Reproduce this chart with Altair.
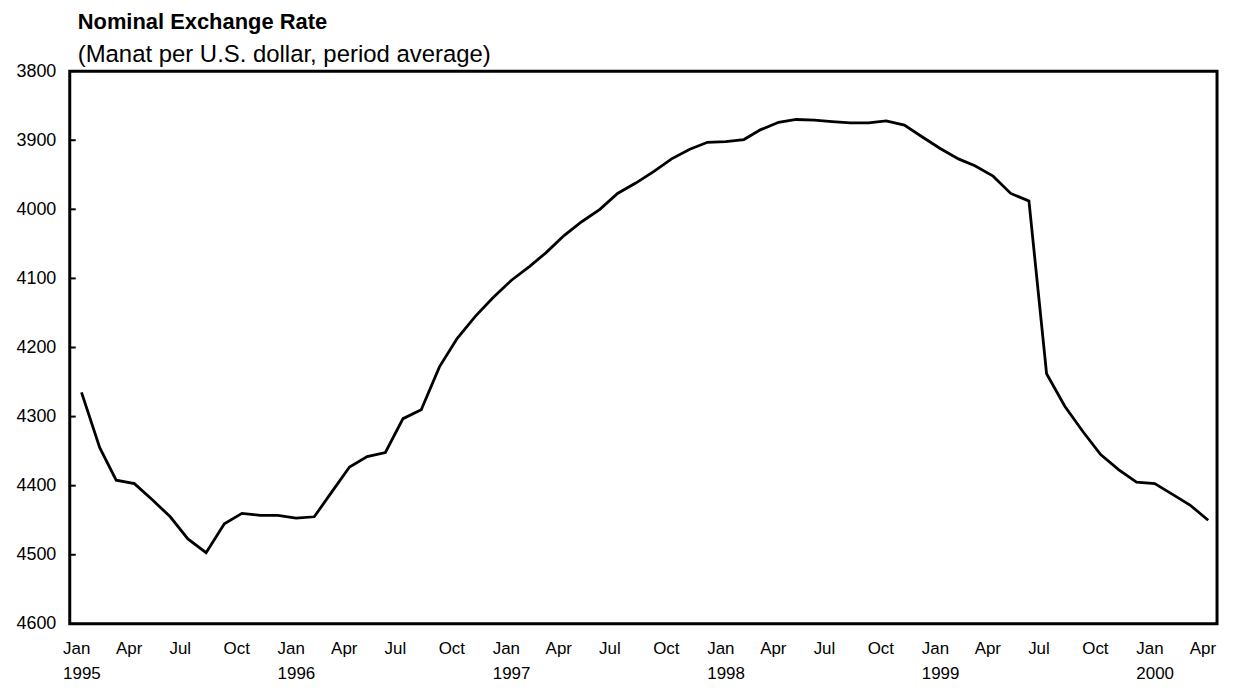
import altair as alt
import pandas as pd

# Monthly observations, Jan 1995 - Apr 2000
years = [1995] * 12 + [1996] * 12 + [1997] * 12 + [1998] * 12 + [1999] * 12 + [2000] * 4
months = list(range(1, 13)) * 5 + [1, 2, 3, 4]

rate = [
    4265, 4345, 4392, 4397, 4420, 4445, 4477, 4497, 4455, 4440, 4443, 4443,   # 1995
    4447, 4445, 4410, 4373, 4358, 4352, 4303, 4290, 4228, 4187, 4155, 4128,   # 1996
    4103, 4083, 4063, 4038, 4018, 4000, 3977, 3962, 3945, 3927, 3913, 3903,   # 1997
    3902, 3899, 3885, 3874, 3870, 3871, 3873, 3875, 3875, 3872, 3878, 3895,   # 1998
    3912, 3927, 3937, 3952, 3977, 3988, 4238, 4285, 4322, 4355, 4377, 4395,   # 1999
    4397, 4413, 4428, 4450,                                                   # 2000
]

y_ticks = [3800, 3900, 4000, 4100, 4200, 4300, 4400, 4500, 4600]

df = pd.DataFrame({
    "date": [f"{y}-{m:02d}-01T00:00:00" for y, m in zip(years, months)],
    "rate": rate,
})
ticks_df = pd.DataFrame({"tick": y_ticks})

FONT = "Liberation Sans"

y_scale = alt.Scale(domain=[3800, 4600], reverse=True, nice=False, zero=False)

line = alt.Chart(df).mark_line(color="black", strokeWidth=2.8).encode(
    x=alt.X(
        "date:T",
        scale=alt.Scale(
            domain=[
                alt.DateTime(year=1994, month=12, date=12),
                alt.DateTime(year=2000, month=4, date=16),
            ]
        ),
        axis=alt.Axis(
            title=None,
            tickCount={"interval": "month", "step": 3},
            labelExpr="[timeFormat(datum.value, '%b'), month(datum.value) == 0 ? timeFormat(datum.value, '%Y') : '']",
            ticks=False,
            grid=False,
            domain=False,
            labelPadding=17,
            labelFontSize=17,
            labelLineHeight=25,
            labelFont=FONT,
            labelColor="black",
            labelAlign="left",
            labelOffset=-19,
            labelFlush=False,
            labelOverlap=False,
        ),
    ),
    y=alt.Y(
        "rate:Q",
        scale=y_scale,
        axis=alt.Axis(
            title=None,
            values=y_ticks,
            format="d",
            ticks=False,
            grid=False,
            domain=False,
            labelPadding=14,
            labelFontSize=18,
            labelFont=FONT,
            labelColor="black",
        ),
    ),
)

# short inward tick marks on the left frame
inner_ticks = alt.Chart(ticks_df).mark_rule(color="black", strokeWidth=2).encode(
    y=alt.Y("tick:Q", scale=y_scale),
    x=alt.value(0),
    x2=alt.value(6),
)

chart = alt.layer(line, inner_ticks).properties(
    width=1152,
    height=555,
    padding={"left": 62, "top": 62, "right": 8, "bottom": 60},
    autosize=alt.AutoSizeParams(type="none"),
    background="white",
    title=alt.TitleParams(
        text="Nominal Exchange Rate",
        subtitle="(Manat per U.S. dollar, period average)",
        anchor="start",
        frame="group",
        dx=8,
        offset=-6,
        font=FONT,
        fontSize=22,
        fontWeight="bold",
        color="black",
        subtitleFont=FONT,
        subtitleFontSize=24,
        subtitleColor="black",
        subtitlePadding=9,
    ),
).configure_view(
    stroke="black",
    strokeWidth=3,
)

chart.save("out.html", embed_options={"renderer": "svg", "actions": False})
